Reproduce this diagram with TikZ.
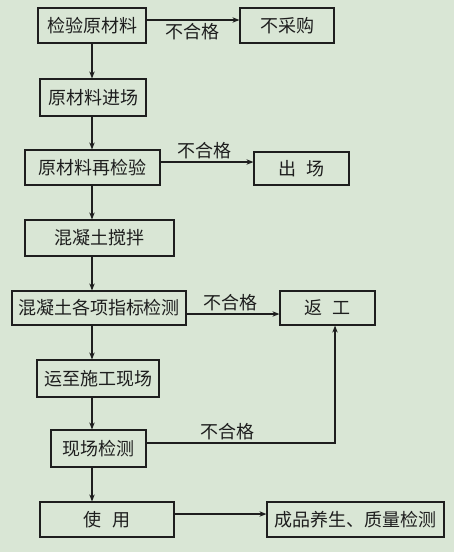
\documentclass[tikz,border=0pt]{standalone}
\usepackage{fontspec}
\setmainfont{Noto Sans CJK SC}
\usetikzlibrary{arrows.meta,positioning}
\definecolor{pagegreen}{RGB}{217,230,213}
\definecolor{inkgray}{RGB}{30,30,30}

\begin{document}
\begin{tikzpicture}[x=1pt, y=-1pt, >={Stealth[length=7pt,width=5.5pt]},
  every node/.style={font=\fontsize{18}{18}\selectfont, text=inkgray},
  box/.style={draw=inkgray, line width=1.2pt, inner sep=0pt, align=center},
  arr/.style={->, draw=inkgray, line width=1.1pt},
  fail/.style={inner sep=2.5pt}]
  \fill[pagegreen] (0,0) rectangle (454,552);
  \useasboundingbox (0,0) rectangle (454,552);
  \coordinate (spine) at (92,0);
  % main column
  \node[box,minimum width=108pt,minimum height=35pt] (jianyan) at (92,25.5) {检验原材料};
  \node[box,minimum width=106pt,minimum height=37pt] (jinchang) at (93,97.5) {原材料进场};
  \node[box,minimum width=135pt,minimum height=35pt] (zaijian) at (92.5,167.5) {原材料再检验};
  \node[box,minimum width=149pt,minimum height=36pt] (jiaoban) at (99.5,238) {混凝土搅拌};
  \node[box,minimum width=174pt,minimum height=34pt] (zhibiao) at (99,308) {混凝土各项指标检测};
  \node[box,minimum width=122pt,minimum height=37pt] (yunzhi) at (98,378.5) {运至施工现场};
  \node[box,minimum width=95pt,minimum height=37pt] (xianchang) at (98.5,448.5) {现场检测};
  \node[box,minimum width=134pt,minimum height=35pt] (shiyong) at (107,519.5) {使\hspace{0.6em}用};
  % right column
  \node[box,minimum width=94pt,minimum height=35pt] (bucaigou) at (287,25.5) {不采购};
  \node[box,minimum width=95pt,minimum height=33pt] (chuchang) at (301.5,168.5) {出\hspace{0.6em}场};
  \node[box,minimum width=95pt,minimum height=34pt] (fangong) at (327.5,308) {返\hspace{0.6em}工};
  \node[box,minimum width=177pt,minimum height=35pt] (chengpin) at (355.5,519.5) {成品养生、质量检测};
  % downward flow
  \draw[arr] (jianyan.south -| spine) -- (jinchang.north -| spine);
  \draw[arr] (jinchang.south -| spine) -- (zaijian.north -| spine);
  \draw[arr] (zaijian.south -| spine) -- (jiaoban.north -| spine);
  \draw[arr] (jiaoban.south -| spine) -- (zhibiao.north -| spine);
  \draw[arr] (zhibiao.south -| spine) -- (yunzhi.north -| spine);
  \draw[arr] (yunzhi.south -| spine) -- (xianchang.north -| spine);
  \draw[arr] (xianchang.south -| spine) -- (shiyong.north -| spine);
  % rejections
  \draw[arr] ([yshift=5.5pt]jianyan.east) -- node[fail,below,xshift=-1pt] {不合格} ([yshift=5.5pt]bucaigou.west);
  \draw[arr] ([yshift=5.5pt]zaijian.east) -- node[fail,above,xshift=-3pt] {不合格} ([yshift=5.5pt]zaijian.east -| chuchang.west);
  \draw[arr] ([yshift=-6pt]zhibiao.east) -- node[fail,above,xshift=-3pt] {不合格} ([yshift=-6pt]fangong.west);
  \draw[arr] ([yshift=5.5pt]xianchang.east) -| node[fail,above,pos=0.215] {不合格} ([xshift=7.5pt]fangong.south);
  \draw[arr] ([yshift=5.5pt]shiyong.east) -- ([yshift=5.5pt]chengpin.west);
\end{tikzpicture}
\end{document}
